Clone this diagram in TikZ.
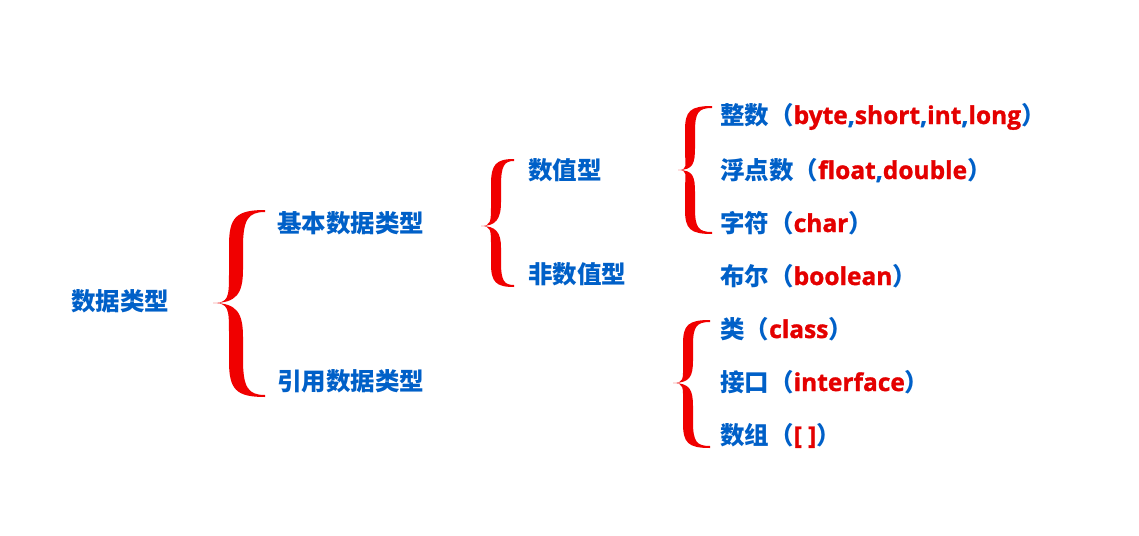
\documentclass[tikz,border=0pt]{standalone}
\usepackage{fontspec}
\setmainfont{Noto Sans CJK SC}
\newfontfamily\latinb{Open Sans}[UprightFont={* Bold}, BoldFont={* Bold}, FakeBold=1.2]
\definecolor{tblue}{RGB}{0,96,200}
\definecolor{tred}{RGB}{228,0,0}
\definecolor{bred}{RGB}{240,0,0}
\newcommand{\rl}[1]{{\latinb\color{tred}#1}}
\newcommand{\cm}{{\latinb\color{tblue},}}
% L R T C B M s
\newcommand{\bracefig}[7]{%
 \pgfmathsetmacro\bl{#1}\pgfmathsetmacro\br{#2}\pgfmathsetmacro\bt{#3}%
 \pgfmathsetmacro\bc{#4}\pgfmathsetmacro\bb{#5}\pgfmathsetmacro\bm{#6}%
 \pgfmathsetmacro\bs{#7}\pgfmathsetmacro\bw{\br-\bl}%
 \pgfmathsetmacro\bo{\bm-\bs}\pgfmathsetmacro\bi{\bm+\bs}%
 \pgfmathsetmacro\du{\bc-\bt}\pgfmathsetmacro\dd{\bb-\bc}%
 \fill[bred] (\br,\bt)
   .. controls ({\bm},\bt) and (\bo,{\bt+0.08*\du}) .. (\bo,{\bt+0.38*\du})
   -- (\bo,{\bc-0.32*\du})
   .. controls (\bo,{\bc-0.06*\du}) and ({\bl+0.3*\bw},\bc) .. (\bl,\bc)
   .. controls ({\bl+0.3*\bw},\bc) and (\bo,{\bc+0.06*\dd}) .. (\bo,{\bc+0.32*\dd})
   -- (\bo,{\bb-0.38*\dd})
   .. controls (\bo,{\bb-0.08*\dd}) and (\bm,\bb) .. (\br,\bb)
   -- (\br,{\bb-2})
   .. controls ({\bi+0.1*\bw},{\bb-2}) and (\bi,{\bb-0.1*\dd}) .. (\bi,{\bb-0.4*\dd})
   -- (\bi,{\bc+0.36*\dd})
   .. controls (\bi,{\bc+0.1*\dd}) and ({\bl+0.45*\bw},\bc) .. (\bl,\bc)
   .. controls ({\bl+0.45*\bw},\bc) and (\bi,{\bc-0.1*\du}) .. (\bi,{\bc-0.36*\du})
   -- (\bi,{\bt+0.4*\du})
   .. controls (\bi,{\bt+0.1*\du}) and ({\bi+0.1*\bw},{\bt+2}) .. (\br,{\bt+2})
   -- cycle;}
\tikzset{lbl/.style={anchor=base west, inner sep=0pt, text=tblue,
  font=\fontsize{24.5}{28}\selectfont\bfseries}}
\begin{document}
\begin{tikzpicture}[x=1pt,y=-1pt]
\useasboundingbox[fill=white] (0,0) rectangle (1139,535);
% braces
\bracefig{213}{265}{210}{303}{397}{236}{7}
\bracefig{481}{514}{159}{226}{287}{496}{5}
\bracefig{678}{712}{106}{170}{234}{690}{5}
\bracefig{673}{710}{320}{383}{448}{688}{5}
% labels
\node[lbl] (root) at (71,310) {数据类型};
\node[lbl] (basic) at (277,232) {基本数据类型};
\node[lbl] (ref) at (277,390) {引用数据类型};
\node[lbl] (num) at (528,179) {数值型};
\node[lbl] (nonnum) at (528,283) {非数值型};
\node[lbl] (int) at (720,124) {整数（\rl{byte}\cm\rl{short}\cm\rl{int}\cm\rl{long}）};
\node[lbl] (flt) at (720,179) {浮点数（\rl{float}\cm\rl{double}）};
\node[lbl] (chr) at (720,232) {字符（\rl{char}）};
\node[lbl] (bool) at (720,285) {布尔（\rl{boolean}）};
\node[lbl] (cls) at (720,338) {类（\rl{class}）};
\node[lbl] (ifc) at (720,391) {接口（\rl{interface}）};
\node[lbl] (arr) at (720,444) {数组（\rl{[ ]}）};
\end{tikzpicture}
\end{document}
